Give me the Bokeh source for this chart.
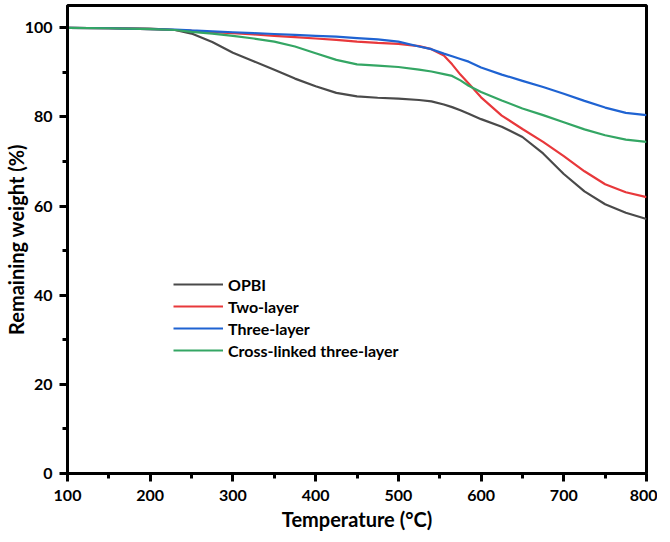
from bokeh.plotting import figure
from bokeh.models import Range1d, FixedTicker, Legend, LegendItem
from bokeh.embed import file_html
from bokeh.resources import INLINE

# Temperature (°C)
temperature = [100, 150, 200, 230, 250, 275, 300, 325, 350, 375, 400, 425, 450,
               475, 500, 525, 540, 555, 565, 575, 585, 600, 625, 650, 675, 700,
               725, 750, 775, 800]

opbi = [100.0, 99.9, 99.8, 99.5, 98.7, 96.8, 94.4, 92.5, 90.6, 88.6, 86.9, 85.4, 84.6,
        84.3, 84.1, 83.8, 83.5, 82.8, 82.2, 81.5, 80.7, 79.5, 77.8, 75.5, 71.8, 67.2,
        63.3, 60.4, 58.5, 57.1]

two_layer = [100.0, 99.9, 99.7, 99.5, 99.3, 99.0, 98.8, 98.5, 98.2, 97.9, 97.6, 97.3, 96.9,
             96.6, 96.4, 95.9, 95.2, 93.8, 91.8, 89.5, 87.5, 84.4, 80.3, 77.3, 74.4, 71.2,
             67.8, 64.9, 63.1, 62.0]

three_layer = [100.0, 99.9, 99.7, 99.6, 99.4, 99.2, 99.0, 98.8, 98.6, 98.4, 98.2, 98.0, 97.7,
               97.4, 96.9, 95.8, 95.2, 94.2, 93.6, 93.0, 92.4, 91.1, 89.5, 88.1, 86.7, 85.2,
               83.6, 82.1, 80.9, 80.4]

cross_linked = [100.0, 99.9, 99.7, 99.5, 99.1, 98.7, 98.2, 97.6, 96.9, 95.8, 94.3, 92.8, 91.8,
                91.5, 91.2, 90.6, 90.2, 89.6, 89.2, 88.2, 87.0, 85.6, 83.7, 81.9, 80.4, 78.8,
                77.2, 75.9, 74.9, 74.4]

series_names = ["OPBI", "Two-layer", "Three-layer", "Cross-linked three-layer"]
series_colors = ["#4a4a4a", "#e8383b", "#1f63d2", "#34a664"]

x_ticks = [100, 200, 300, 400, 500, 600, 700, 800]
x_minor = [150, 250, 350, 450, 550, 650, 750]
y_ticks = [0, 20, 40, 60, 80, 100]
y_minor = [10, 30, 50, 70, 90]

FONT = "Lato"

p = figure(frame_width=579, frame_height=468,
           x_range=Range1d(100, 800), y_range=Range1d(0, 105),
           output_backend="svg", toolbar_location=None,
           min_border_left=64, min_border_right=11, min_border_top=5, min_border_bottom=50)

p.background_fill_color = "white"
p.border_fill_color = "white"
p.outline_line_color = "black"
p.outline_line_width = 3
p.xgrid.visible = False
p.ygrid.visible = False

items = []
for ys, name, col in zip([opbi, two_layer, three_layer, cross_linked], series_names, series_colors):
    r = p.line(temperature, ys, line_color=col, line_width=2.2)
    items.append(LegendItem(label=name, renderers=[r]))

for ax in (p.xaxis[0], p.yaxis[0]):
    ax.axis_line_width = 3
    ax.axis_line_color = "black"
    ax.major_tick_line_width = 3
    ax.minor_tick_line_width = 3
    ax.major_tick_in = 0
    ax.major_tick_out = 8
    ax.minor_tick_in = 0
    ax.minor_tick_out = 5
    ax.major_label_text_font = FONT
    ax.major_label_text_font_style = "bold"
    ax.major_label_text_font_size = "16px"
    ax.major_label_text_color = "black"
    ax.axis_label_text_font = FONT
    ax.axis_label_text_font_style = "bold"
    ax.axis_label_text_font_size = "20px"
    ax.axis_label_text_color = "black"

p.xaxis[0].ticker = FixedTicker(ticks=x_ticks, minor_ticks=x_minor)
p.yaxis[0].ticker = FixedTicker(ticks=y_ticks, minor_ticks=y_minor)
p.xaxis[0].axis_label = "Temperature (°C)"
p.yaxis[0].axis_label = "Remaining weight (%)"
p.xaxis[0].major_label_standoff = 8
p.xaxis[0].axis_label_standoff = 3
p.yaxis[0].major_label_standoff = 7
p.yaxis[0].axis_label_standoff = -6

legend = Legend(items=items, location=(106, 113), orientation="vertical",
                glyph_width=50, glyph_height=20, label_height=20, spacing=2,
                label_standoff=5, padding=0, margin=0,
                border_line_alpha=0, background_fill_alpha=0,
                label_text_font=FONT, label_text_font_style="bold",
                label_text_font_size="16px", label_text_color="black")
p.add_layout(legend)

open("out.html", "w").write(file_html(p, INLINE))
